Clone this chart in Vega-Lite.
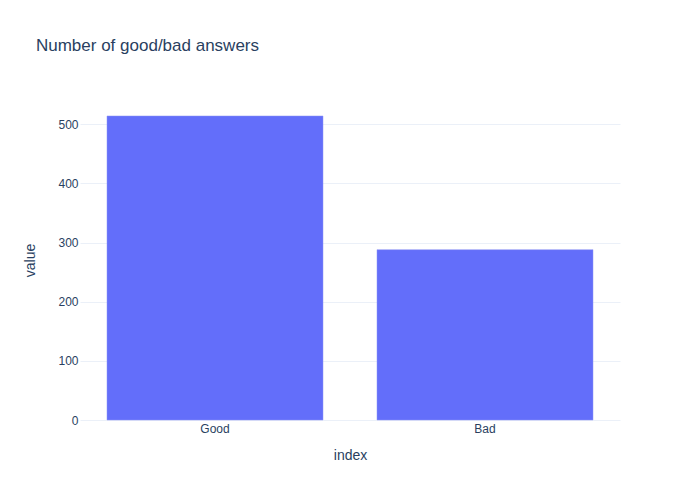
{
  "$schema": "https://vega.github.io/schema/vega-lite/v6.json",
  "width": 540,
  "height": 320,
  "autosize": {"type": "none"},
  "padding": {"left": 80, "top": 100, "right": 80, "bottom": 80},
  "background": "white",
  "title": {
    "text": "Number of good/bad answers",
    "anchor": "start",
    "dx": 12,
    "offset": 32,
    "baseline": "alphabetic",
    "font": "Liberation Sans",
    "fontSize": 17,
    "fontWeight": "normal",
    "color": "#2a3f5f"
  },
  "config": {
    "view": {"stroke": null},
    "axis": {
      "labelFont": "Liberation Sans",
      "titleFont": "Liberation Sans",
      "labelColor": "#2a3f5f",
      "titleColor": "#2a3f5f",
      "labelFontSize": 12,
      "titleFontSize": 14,
      "titleFontWeight": "normal",
      "domain": false,
      "ticks": false
    }
  },
  "data": {
    "values": [
      {"index": "Good", "value": 514},
      {"index": "Bad", "value": 288}
    ]
  },
  "mark": {"type": "bar", "color": "#636efa", "stroke": "#8f97f5", "strokeWidth": 0.5},
  "encoding": {
    "x": {
      "field": "index",
      "type": "nominal",
      "sort": ["Good", "Bad"],
      "scale": {"paddingInner": 0.2, "paddingOuter": 0.1},
      "axis": {"labelAngle": 0, "labelPadding": 3, "titlePadding": 14, "grid": false}
    },
    "y": {
      "field": "value",
      "type": "quantitative",
      "scale": {"domain": [0, 541], "nice": false},
      "axis": {
        "values": [0, 100, 200, 300, 400, 500],
        "grid": true,
        "gridColor": "#ebf0f8",
        "labelPadding": 2,
        "titlePadding": 20
      }
    }
  }
}
